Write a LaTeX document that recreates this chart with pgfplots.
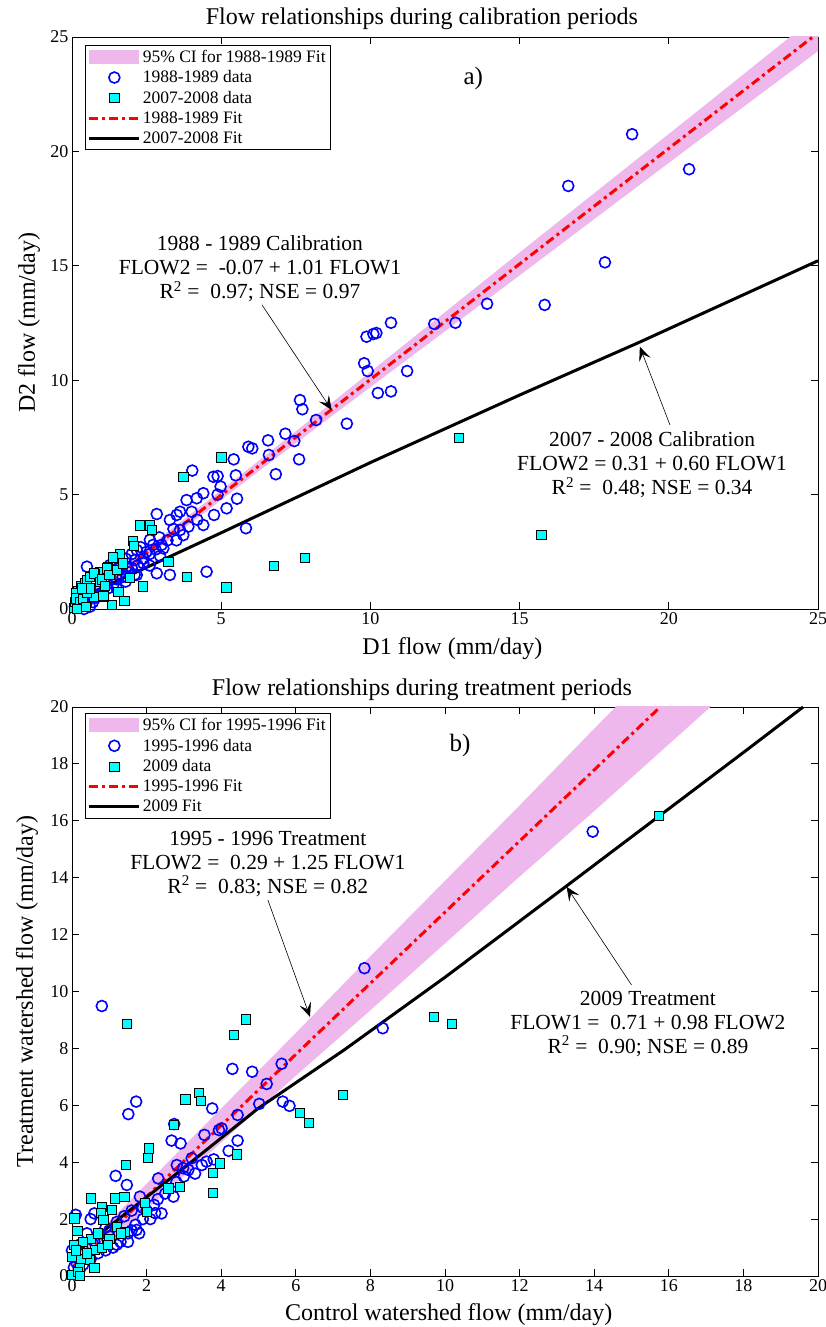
\documentclass[border=0pt]{standalone}
\usepackage{fontspec}
\setmainfont{Liberation Serif}
\usepackage{pgfplots}
\pgfplotsset{compat=1.18}
\usetikzlibrary{arrows.meta}
\definecolor{cipink}{RGB}{238,184,236}
\definecolor{mcyan}{RGB}{0,255,255}
\definecolor{mblue}{RGB}{0,0,255}
\tikzset{
 annot/.style={align=center, font=\fontsize{21.5}{24}\selectfont},
 arr/.style={line width=0.6pt, -{Stealth[length=14pt,width=12pt,inset=6pt]}},
}
\begin{document}
\begin{tikzpicture}[x=1pt,y=1pt]
\useasboundingbox (0,0) rectangle (825,1327);
\pgfplotsset{
 mystyle/.style={
  scale only axis, width=746pt,
  tick align=inside, major tick length=7pt,
  axis line style={line width=0.9pt},
  every tick/.style={black, line width=0.8pt},
  ticklabel style={font=\fontsize{18}{20}\selectfont},
  /pgf/number format/assume math mode=true,
  label style={font=\fontsize{24}{26}\selectfont},
  title style={font=\fontsize{24}{26}\selectfont, yshift=0pt},
  legend cell align=left,
  legend style={draw=black, line width=0.8pt, font=\fontsize{17.5}{19}\selectfont, row sep=3pt, inner sep=2.5pt},
  legend image code/.code={\draw[mark repeat=2,mark phase=2,#1] plot coordinates {(0pt,0pt)(25pt,0pt)(50pt,0pt)};},
  scaled ticks=false,
 },
 bandstyle/.style={fill=cipink, draw=none, legend image code/.code={\fill[cipink] (0pt,-7pt) rectangle (50pt,7pt);}},
 circstyle/.style={only marks, mark=o, mark size=5.5pt, mblue, line width=1.6pt},
 sqstyle/.style={only marks, mark=square*, mark size=4.6pt, mark options={fill=mcyan, draw=black, line width=0.6pt}},
 redfit/.style={red, line width=3pt, dash pattern=on 9pt off 4pt on 3pt off 4pt, mark=none},
 blackfit/.style={black, line width=3pt, mark=none},
}
% ---------------- Panel a ----------------
\begin{axis}[mystyle, height=572pt, at={(72pt,718pt)}, anchor=south west,
  xmin=0, xmax=25, ymin=0, ymax=25,
  xtick={0,5,10,15,20,25}, ytick={0,5,10,15,20,25},
  title={Flow relationships during calibration periods},
  title style={at={(axis description cs:0.469,1.0205)}, anchor=center},
  xlabel={D1 flow (mm/day)}, ylabel={D2 flow (mm/day)},
  xlabel style={at={(axis description cs:0.51,-0.069)}, anchor=center},
  ylabel style={at={(axis description cs:-0.0575,0.5)}, anchor=center},
  legend style={at={(0.0174,0.986)}, anchor=north west},
]
\addplot[bandstyle] coordinates {
 (0,0.23) (3,3.16) (6,6.21) (9,9.32) (12,12.45) (15,15.58) (18,18.69) (21,21.80) (25,25.98)
 (25,24.38) (21,20.48) (18,17.53) (15,14.58) (12,11.65) (9,8.72) (6,5.77) (3,2.76) (0,-0.37)
} -- cycle;
\addlegendentry{95\% CI for 1988-1989 Fit}
\addplot[circstyle] coordinates {
 (18.77,20.75) (20.68,19.22) (16.63,18.49) (17.86,15.15) (15.84,13.29) (13.91,13.34)
 (12.85,12.51) (12.14,12.46) (10.69,12.51) (10.2,12.06) (11.23,10.40) (10.69,9.51) (10.25,9.44)
 (9.87,11.9) (10.10,12.02) (9.79,10.74) (9.91,10.40) (7.64,9.13) (7.72,8.73) (8.18,8.26)
 (9.21,8.10) (7.15,7.66) (6.57,7.37) (7.45,7.34) (5.91,7.09) (6.04,7.02) (6.60,6.73) (7.61,6.54)
 (5.42,6.54) (6.83,5.89) (5.49,5.84) (4.74,5.78) (4.88,5.81) (4.98,5.35) (4.40,5.06) (4.88,5.0)
 (5.53,4.82) (5.18,4.40) (4.76,4.11) (4.40,3.67) (5.83,3.53)
 (4.03,6.05) (3.84,4.76) (4.18,4.84) (3.62,4.25) (3.51,4.11) (3.28,3.89) (2.84,4.15) (4.01,4.25)
 (3.62,3.45) (3.73,3.23) (2.93,3.13) (3.06,2.65) (2.61,3.02) (2.72,2.80) (2.5,2.5) (2.95,2.32)
 (2.17,2.58) (2.11,2.14) (2.39,2.0) (1.66,2.0) (1.83,1.85) (2.84,1.56) (3.28,1.49) (4.51,1.63)
 (1.27,1.92) (1.38,1.70) (0.55,0.54) (0.94,0.98) (1.16,1.19) (0.5,1.85) (1.83,1.41) (2.17,1.49)
 (0.1,0.1) (0.2,0.05) (0.3,0.2) (0.4,0.0) (0.6,0.1) (0.7,0.3) (0.8,0.5) (1.0,0.7) (1.2,0.9)
 (1.4,1.1) (1.5,1.3) (1.7,1.4) (1.9,1.6) (2.0,1.8) (2.2,1.9) (2.4,2.2) (2.6,2.4) (2.8,2.6)
 (3.0,2.8) (3.2,3.0) (1.1,1.5) (1.3,1.6) (1.6,1.8) (1.8,2.2) (2.3,2.7) (2.0,2.4) (0.9,0.6)
 (1.5,0.9) (1.8,1.2) (2.1,1.5) (2.6,1.9) (0.3,0.6) (0.5,0.3) (3.5,3.0) (3.9,3.6) (4.2,3.9) (3.4,3.5)
};
\addlegendentry{1988-1989 data}
\addplot[sqstyle] coordinates {
 (12.97,7.49) (15.73,3.23) (5.0,6.63) (3.73,5.78) (2.28,3.66) (2.61,3.66) (2.67,3.45) (2.03,2.99)
 (2.08,2.75) (1.61,2.40) (1.36,2.26) (1.20,1.85) (0.94,1.63) (0.77,1.53) (3.23,2.07) (1.94,1.38)
 (3.84,1.41) (2.36,0.99) (5.17,0.95) (1.55,0.76) (1.75,0.36) (1.33,0.17) (1.05,0.54) (6.75,1.88)
 (7.81,2.24) (0.05,0.05) (0.1,0.3) (0.15,0.55) (0.2,0.8) (0.3,1.0) (0.44,1.12) (0.5,1.25) (0.6,1.4)
 (0.72,1.56) (0.94,1.19) (1.16,1.78) (0.13,0.69) (0.12,0.47) (0.27,0.32) (0.72,0.54) (1.05,0.57)
 (0.35,0.45) (0.5,0.7) (0.6,0.9) (1.0,1.3) (1.1,1.0) (1.25,1.5) (1.5,1.7) (1.7,2.0) (0.45,0.1)
 (0.15,0.0) (0.33,0.9)
};
\addlegendentry{2007-2008 data}
\addplot[redfit] coordinates {(0,-0.07) (25,25.18)};
\addlegendentry{1988-1989 Fit}
\addplot[blackfit] coordinates {(0,0.31) (5,3.33) (10,6.40) (15,9.35) (19,11.65) (25,15.22)};
\addlegendentry{2007-2008 Fit}
\node[font=\fontsize{25}{27}\selectfont] at (axis cs:13.45,23.2) {a)};
\node[annot] at (axis cs:6.3,14.86)
 {1988 - 1989 Calibration\\FLOW2 =\ \ -0.07 + 1.01 FLOW1\\R\textsuperscript{2}\ =\ \ 0.97; NSE\ = 0.97};
\node[annot] at (axis cs:19.44,6.29)
 {2007 - 2008 Calibration\\FLOW2 = 0.31 + 0.60 FLOW1\\R\textsuperscript{2}\ =\ \ 0.48; NSE\ = 0.34};
\draw[arr] (axis cs:6.37,13.29) -- (axis cs:8.70,8.70);
\draw[arr] (axis cs:20.04,8.04) -- (axis cs:19.03,11.46);
\end{axis}
% ---------------- Panel b ----------------
\begin{axis}[mystyle, height=569pt, at={(72pt,51pt)}, anchor=south west,
  xmin=0, xmax=20, ymin=0, ymax=20,
  xtick={0,2,...,20}, ytick={0,2,...,20},
  title={Flow relationships during treatment periods},
  title style={at={(axis description cs:0.469,1.019)}, anchor=center},
  xlabel={Control watershed flow (mm/day)}, ylabel={Treatment watershed flow (mm/day)},
  xlabel style={at={(axis description cs:0.505,-0.068)}, anchor=center},
  ylabel style={at={(axis description cs:-0.0603,0.5)}, anchor=center},
  legend style={at={(0.0174,0.989)}, anchor=north west},
]
\addplot[bandstyle] coordinates {
 (0,0.59) (2,3.24) (4,5.89) (6,8.54) (8,11.24) (10,13.89) (12,16.54) (14,19.24) (16,21.89) (18,24.54)
 (18,21.04) (16,18.69) (14,16.34) (12,14.04) (10,11.69) (8,9.34) (6,7.04) (4,4.69) (2,2.34) (0,-0.01)
} -- cycle;
\addlegendentry{95\% CI for 1995-1996 Fit}
\addplot[circstyle] coordinates {
 (13.96,15.62) (7.84,10.82) (8.33,8.71) (0.80,9.49) (4.30,7.28) (4.83,7.18) (5.62,7.46) (5.22,6.75)
 (1.72,6.13) (1.51,5.69) (3.76,5.89) (5.02,6.05) (5.65,6.13) (5.83,5.98) (4.44,5.66) (2.74,5.34)
 (2.67,4.76) (2.91,4.66) (3.55,4.96) (3.94,5.13) (4.01,5.19) (4.44,4.76) (3.21,4.14) (3.61,4.02)
 (3.48,3.90) (2.81,3.90) (2.98,3.79) (3.12,3.73) (1.17,3.52) (1.47,3.20) (2.31,3.43) (2.72,2.79)
 (1.82,2.79) (0.1,2.15) (0.5,2.0) (0.6,2.2)
 (2.0,2.3) (2.2,2.5) (2.4,2.2) (1.9,2.0) (1.7,1.8) (1.5,1.5) (1.3,1.2) (1.1,1.0) (0.9,0.9) (0.7,0.8)
 (0.5,0.6) (0.3,0.4) (0.2,0.2) (0.1,0.5) (0.0,0.9) (0.05,0.3) (0.4,1.0) (0.8,1.3) (1.0,1.6) (1.2,1.9)
 (1.4,2.1) (1.6,2.3) (2.5,2.9) (2.8,3.3) (3.0,3.5) (3.3,3.6) (1.0,1.4) (1.6,1.6) (1.9,2.4) (2.3,2.7)
 (0.3,0.9) (0.6,1.2) (1.5,1.2) (1.8,1.5) (1.2,1.1) (0.9,1.7) (0.2,1.1) (0.4,1.5) (3.8,4.1) (4.2,4.4)
 (2.1,2.0) (2.23,2.21) (1.73,1.62)
};
\addlegendentry{1995-1996 data}
\addplot[sqstyle] coordinates {
 (15.74,16.18) (9.71,9.11) (10.19,8.86) (1.47,8.86) (4.33,8.47) (4.66,9.02) (3.04,6.21) (3.41,6.44)
 (3.45,6.16) (6.11,5.74) (7.26,6.36) (6.34,5.39) (2.72,5.31) (2.05,4.49) (2.03,4.16) (1.44,3.90)
 (3.97,3.96) (3.77,3.64) (3.77,2.93) (2.88,3.14) (2.58,3.08) (0.50,2.73) (1.15,2.73) (1.40,2.79)
 (0.80,2.44) (1.06,2.34) (1.96,2.56) (2.0,2.26) (0.77,2.22) (0.84,1.97) (0.06,2.03) (1.2,1.73)
 (1.42,1.56) (0.14,1.58) (0.0,0.05) (0.04,1.09) (0.0,0.68) (0.21,0.33) (0.25,0.6) (0.47,0.56)
 (0.62,0.91) (0.93,1.15) (0.5,1.3) (0.7,1.5) (0.3,1.2) (0.1,0.9) (0.6,0.3) (0.8,1.0) (1.0,1.3)
 (0.4,0.8) (0.15,0.15) (1.3,1.5) (0.2,0.0) (0.97,1.1) (4.41,4.28)
};
\addlegendentry{2009 data}
\addplot[redfit] coordinates {(0,0.29) (15.77,20)};
\addlegendentry{1995-1996 Fit}
\addplot[blackfit] coordinates {(0,0.72) (3,3.8) (5,5.9) (7.3,7.95) (10,10.5) (13.3,13.75) (18.1,18.5) (19.6,20)};
\addlegendentry{2009 Fit}
\node[font=\fontsize{25}{27}\selectfont] at (axis cs:10.4,18.66) {b)};
\node[annot] at (axis cs:5.25,14.48)
 {1995 - 1996 Treatment\\FLOW2 =\ \ 0.29 + 1.25 FLOW1\\R\textsuperscript{2}\ =\ \ 0.83; NSE\ = 0.82};
\node[annot] at (axis cs:15.44,8.86)
 {2009 Treatment\\FLOW1 =\ \ 0.71 + 0.98 FLOW2\\R\textsuperscript{2}\ =\ \ 0.90; NSE\ = 0.89};
\draw[arr] (axis cs:5.25,13.22) -- (axis cs:6.38,9.11);
\draw[arr] (axis cs:15.0,10.23) -- (axis cs:13.26,13.68);
\end{axis}
\end{tikzpicture}
\end{document}
